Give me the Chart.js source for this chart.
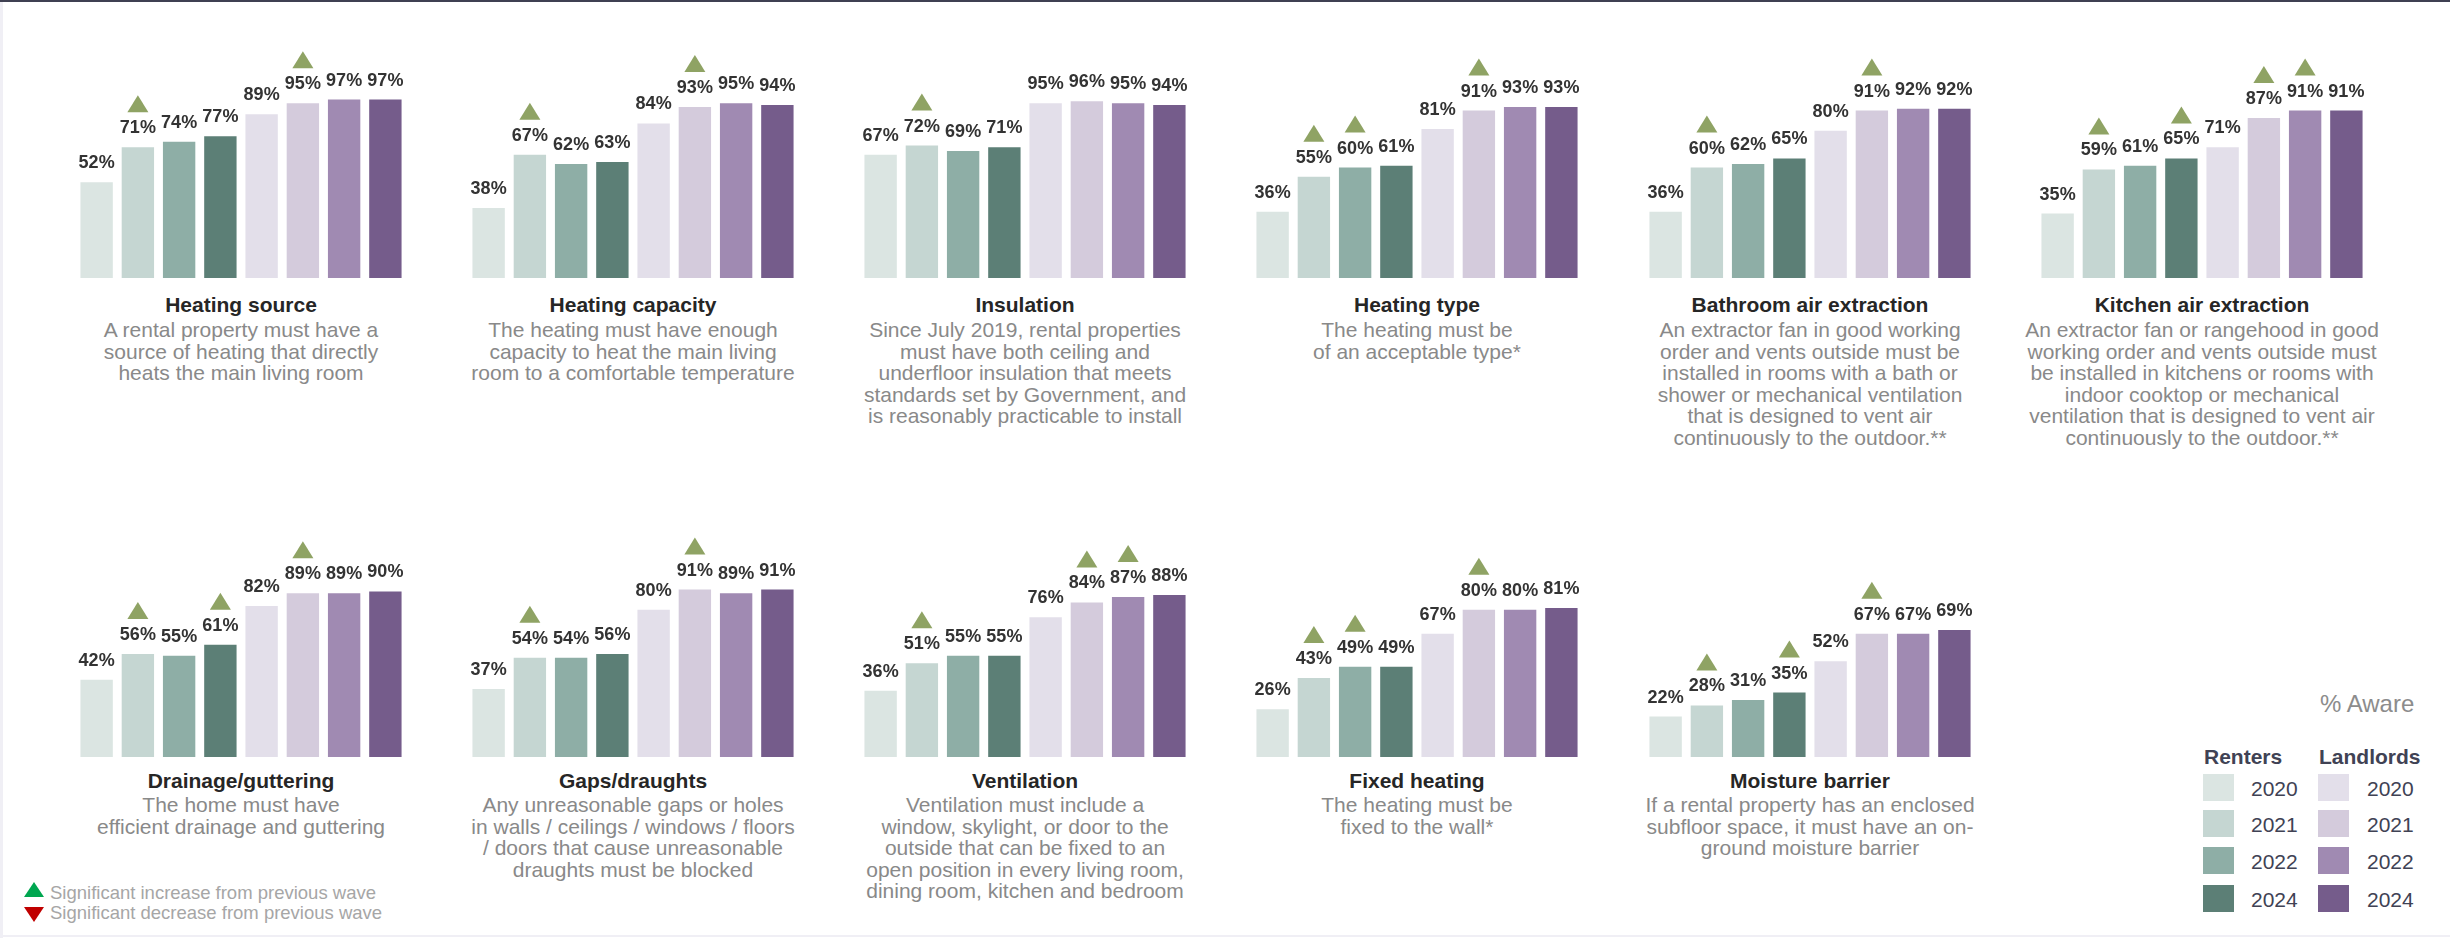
<!DOCTYPE html>
<html lang="en">
<head>
  <meta charset="UTF-8" />
  <title>Awareness of healthy homes standards</title>
  <script src="https://cdn.jsdelivr.net/npm/chart.js"></script>
  <style>
    body {
      margin: 0;
      width: 2450px;
      height: 938px;
      background: #ffffff;
      font-family: 'Liberation Sans', Arial, sans-serif;
      position: relative;
      overflow: hidden;
    }
    .topline { position: absolute; left: 0; top: 0; width: 2450px; height: 2px; background: #3f4052; }
    .leftline { position: absolute; left: 0; top: 2px; width: 3px; height: 936px; background: #f0eff5; }
    .bottomline { position: absolute; left: 0; top: 935px; width: 2450px; height: 2px; background: #f0eff5; }
    canvas { position: absolute; }
    .title {
      position: absolute;
      width: 390px;
      text-align: center;
      font-weight: bold;
      font-size: 21px;
      line-height: 24px;
      color: #262626;
    }
    .desc {
      position: absolute;
      width: 390px;
      text-align: center;
      font-size: 21px;
      line-height: 21.5px;
      color: #898989;
      white-space: nowrap;
    }
    .aware { position: absolute; left: 2320px; top: 690px; font-size: 24px; color: #8c8c8c; }
    .lghead { position: absolute; top: 745px; font-size: 21px; font-weight: bold; color: #404254; }
    .sw { position: absolute; width: 31px; height: 27px; }
    .yr { position: absolute; font-size: 21px; color: #404254; line-height: 27px; }
    .sig { position: absolute; left: 50px; font-size: 18.5px; color: #a6a6a6; line-height: 20px; }
    .tri { position: absolute; left: 24px; width: 0; height: 0; border-left: 10px solid transparent; border-right: 10px solid transparent; }
  </style>
</head>
<body>
  <div class="topline"></div>
  <div class="leftline"></div>
  <div class="bottomline"></div>
  <div id="panels"></div>

  <div class="aware">% Aware</div>
  <div class="lghead" style="left:2204px">Renters</div>
  <div class="lghead" style="left:2319px">Landlords</div>
  <div id="legend"></div>

  <div class="tri" style="top:882px; border-bottom:15px solid #00a650;"></div>
  <div class="sig" style="top:883px">Significant increase from previous wave</div>
  <div class="tri" style="top:907px; border-top:15px solid #c00000;"></div>
  <div class="sig" style="top:903px">Significant decrease from previous wave</div>

  <script>
    // bar order: renters 2020, 2021, 2022, 2024, then landlords 2020, 2021, 2022, 2024
    const years = ['2020', '2021', '2022', '2024'];
    const barLabels = ['Renters 2020', 'Renters 2021', 'Renters 2022', 'Renters 2024',
                       'Landlords 2020', 'Landlords 2021', 'Landlords 2022', 'Landlords 2024'];

    const renterColors = ['#dbe5e2', '#c5d6d2', '#8eaea6', '#5c7f76'];
    const landlordColors = ['#e3dfea', '#d4cbdc', '#a08ab2', '#755c8b'];

    const titles = ['Heating source', 'Heating capacity', 'Insulation', 'Heating type',
                    'Bathroom air extraction', 'Kitchen air extraction', 'Drainage/guttering',
                    'Gaps/draughts', 'Ventilation', 'Fixed heating', 'Moisture barrier'];

    const descriptions = [
      ['A rental property must have a', 'source of heating that directly', 'heats the main living room'],
      ['The heating must have enough', 'capacity to heat the main living', 'room to a comfortable temperature'],
      ['Since July 2019, rental properties', 'must have both ceiling and', 'underfloor insulation that meets', 'standards set by Government, and', 'is reasonably practicable to install'],
      ['The heating must be', 'of an acceptable type*'],
      ['An extractor fan in good working', 'order and vents outside must be', 'installed in rooms with a bath or', 'shower or mechanical ventilation', 'that is designed to vent air', 'continuously to the outdoor.**'],
      ['An extractor fan or rangehood in good', 'working order and vents outside must', 'be installed in kitchens or rooms with', 'indoor cooktop or mechanical', 'ventilation that is designed to vent air', 'continuously to the outdoor.**'],
      ['The home must have', 'efficient drainage and guttering'],
      ['Any unreasonable gaps or holes', 'in walls / ceilings / windows / floors', '/ doors that cause unreasonable', 'draughts must be blocked'],
      ['Ventilation must include a', 'window, skylight, or door to the', 'outside that can be fixed to an', 'open position in every living room,', 'dining room, kitchen and bedroom'],
      ['The heating must be', 'fixed to the wall*'],
      ['If a rental property has an enclosed', 'subfloor space, it must have an on-', 'ground moisture barrier']
    ];

    // % aware
    const renterValues = [
      [52, 71, 74, 77], [38, 67, 62, 63], [67, 72, 69, 71], [36, 55, 60, 61],
      [36, 60, 62, 65], [35, 59, 61, 65], [42, 56, 55, 61], [37, 54, 54, 56],
      [36, 51, 55, 55], [26, 43, 49, 49], [22, 28, 31, 35]
    ];
    const landlordValues = [
      [89, 95, 97, 97], [84, 93, 95, 94], [95, 96, 95, 94], [81, 91, 93, 93],
      [80, 91, 92, 92], [71, 87, 91, 91], [82, 89, 89, 90], [80, 91, 89, 91],
      [76, 84, 87, 88], [67, 80, 80, 81], [52, 67, 67, 69]
    ];
    // bars marked with a significant increase (index into barLabels)
    const sigIncrease = [
      [1, 5], [1, 5], [1], [1, 2, 5], [1, 5], [1, 3, 5, 6],
      [1, 3, 5], [1, 5], [1, 5, 6], [1, 2, 5], [1, 3, 5]
    ];

    const colLeft = [76, 468, 860, 1252, 1645, 2037];
    const rowBase = [278, 757];
    const titleTop = [293, 769];
    const descTop = [319, 794];
    const chartW = 330, chartH = 250, plotH = 184;

    const labelPlugin = {
      id: 'barLabels',
      afterDatasetsDraw(chart, args, opts) {
        const ctx = chart.ctx;
        const meta = chart.getDatasetMeta(0);
        const vals = chart.data.datasets[0].data;
        ctx.save();
        ctx.font = 'bold 18px "Liberation Sans", Arial, sans-serif';
        ctx.textAlign = 'center';
        ctx.textBaseline = 'alphabetic';
        meta.data.forEach((bar, i) => {
          ctx.fillStyle = '#333333';
          ctx.fillText(vals[i] + '%', bar.x, bar.y - 14);
          if (opts.sig.includes(i)) {
            ctx.fillStyle = '#8fa364';
            ctx.beginPath();
            ctx.moveTo(bar.x - 10.5, bar.y - 35);
            ctx.lineTo(bar.x + 10.5, bar.y - 35);
            ctx.lineTo(bar.x, bar.y - 52);
            ctx.closePath();
            ctx.fill();
          }
        });
        ctx.restore();
      }
    };

    const panels = document.getElementById('panels');

    titles.forEach((title, p) => {
      const row = p < 6 ? 0 : 1;
      const left = colLeft[p % 6];

      const canvas = document.createElement('canvas');
      canvas.width = chartW;
      canvas.height = chartH;
      canvas.style.left = left + 'px';
      canvas.style.top = (rowBase[row] - chartH) + 'px';
      panels.appendChild(canvas);

      const t = document.createElement('div');
      t.className = 'title';
      t.style.left = (left + chartW / 2 - 195) + 'px';
      t.style.top = titleTop[row] + 'px';
      t.textContent = title;
      panels.appendChild(t);

      const d = document.createElement('div');
      d.className = 'desc';
      d.style.left = (left + chartW / 2 - 195) + 'px';
      d.style.top = descTop[row] + 'px';
      d.innerHTML = descriptions[p].join('<br>');
      panels.appendChild(d);

      new Chart(canvas, {
        type: 'bar',
        data: {
          labels: barLabels,
          datasets: [{
            data: renterValues[p].concat(landlordValues[p]),
            backgroundColor: renterColors.concat(landlordColors),
            borderWidth: 0,
            barPercentage: 0.785,
            categoryPercentage: 1.0
          }]
        },
        options: {
          responsive: false,
          animation: false,
          layout: { padding: { top: chartH - plotH, left: 0, right: 0, bottom: 0 } },
          plugins: {
            legend: { display: false },
            tooltip: { enabled: false },
            barLabels: { sig: sigIncrease[p] }
          },
          scales: {
            x: { display: false },
            y: { display: false, min: 0, max: 100 }
          }
        },
        plugins: [labelPlugin]
      });
    });

    // legend swatches
    const legend = document.getElementById('legend');
    const swTop = [774, 810, 847, 885];
    years.forEach((y, i) => {
      legend.insertAdjacentHTML('beforeend',
        `<div class="sw" style="left:2203px; top:${swTop[i]}px; background:${renterColors[i]}"></div>` +
        `<div class="yr" style="left:2251px; top:${swTop[i] + 1}px">${y}</div>` +
        `<div class="sw" style="left:2318px; top:${swTop[i]}px; background:${landlordColors[i]}"></div>` +
        `<div class="yr" style="left:2367px; top:${swTop[i] + 1}px">${y}</div>`);
    });
  </script>
</body>
</html>
